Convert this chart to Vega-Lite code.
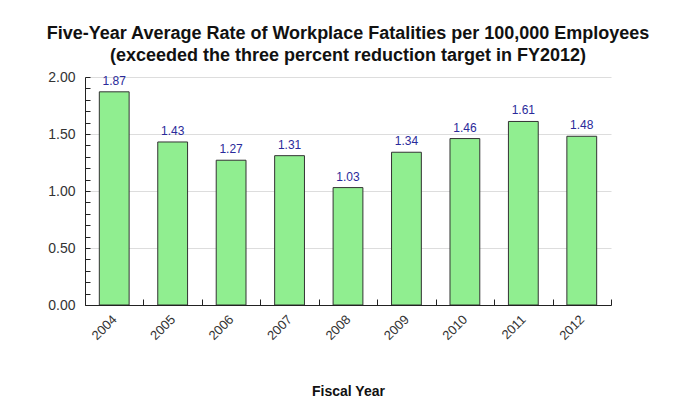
{
  "$schema": "https://vega.github.io/schema/vega-lite/v6.json",
  "autosize": "none",
  "width": 526,
  "height": 228,
  "padding": {"left": 85, "top": 77, "right": 67, "bottom": 96},
  "background": "white",
  "title": {
    "text": ["Five-Year Average Rate of Workplace Fatalities per 100,000 Employees", "(exceeded the three percent reduction target in FY2012)"],
    "font": "Liberation Sans",
    "fontSize": 18,
    "fontWeight": "bold",
    "color": "#111111",
    "lineHeight": 22,
    "anchor": "middle",
    "offset": 5
  },
  "data": {
    "values": [
      {"year": "2004", "rate": 1.87},
      {"year": "2005", "rate": 1.43},
      {"year": "2006", "rate": 1.27},
      {"year": "2007", "rate": 1.31},
      {"year": "2008", "rate": 1.03},
      {"year": "2009", "rate": 1.34},
      {"year": "2010", "rate": 1.46},
      {"year": "2011", "rate": 1.61},
      {"year": "2012", "rate": 1.48}
    ]
  },
  "encoding": {
    "x": {
      "field": "year",
      "type": "ordinal",
      "scale": {"paddingInner": 0, "paddingOuter": 0},
      "axis": {
        "title": "Fiscal Year",
        "titleFont": "Liberation Sans",
        "titleFontSize": 14,
        "titleFontWeight": "bold",
        "titleColor": "#111111",
        "titlePadding": 42,
        "labelAngle": -45,
        "labelAlign": "right",
        "labelBaseline": "middle",
        "labelFont": "Liberation Sans",
        "labelFontSize": 13,
        "labelColor": "#333333",
        "labelPadding": 18,
        "ticks": true,
        "tickBand": "extent",
        "tickSize": -6,
        "tickWidth": 1,
        "tickColor": "#222222",
        "domainColor": "#222222",
        "grid": false,
        "zindex": 1
      }
    },
    "y": {
      "field": "rate",
      "type": "quantitative",
      "scale": {"domain": [0, 2], "nice": false},
      "axis": {
        "title": null,
        "values": [0, 0.1, 0.2, 0.3, 0.4, 0.5, 0.6, 0.7, 0.8, 0.9, 1, 1.1, 1.2, 1.3, 1.4, 1.5, 1.6, 1.7, 1.8, 1.9, 2],
        "labelExpr": "abs(datum.value*2 - round(datum.value*2)) < 0.001 ? format(datum.value, '.2f') : ''",
        "labelFont": "Liberation Sans",
        "labelFontSize": 14,
        "labelColor": "#333333",
        "labelPadding": 15,
        "ticks": true,
        "tickSize": -5,
        "tickWidth": 1,
        "tickColor": "#222222",
        "domainColor": "#222222",
        "grid": true,
        "gridColor": "#dddddd",
        "gridOpacity": {"condition": {"test": "abs(datum.value*2 - round(datum.value*2)) < 0.001", "value": 1}, "value": 0},
        "zindex": 0
      }
    }
  },
  "layer": [
    {
      "mark": {"type": "bar", "width": {"band": 0.51}, "fill": "#90EE90", "stroke": "#333333", "strokeWidth": 1}
    },
    {
      "mark": {"type": "text", "baseline": "bottom", "dy": -4, "font": "Liberation Sans", "fontSize": 12, "color": "#2a2a9a"},
      "encoding": {
        "text": {"field": "rate", "type": "quantitative", "format": ".2f"}
      }
    }
  ],
  "config": {
    "view": {"stroke": null}
  }
}
